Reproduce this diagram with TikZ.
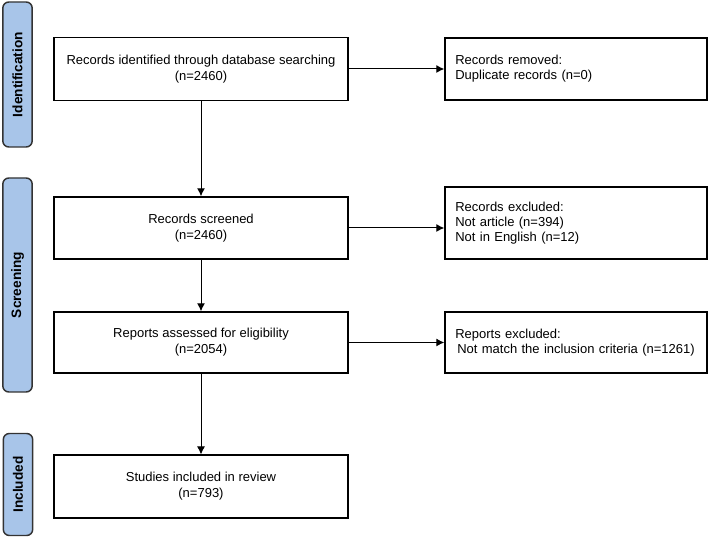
\documentclass[tikz,border=0pt]{standalone}
\usepackage{fontspec}
\setmainfont{Liberation Sans}
\usetikzlibrary{arrows.meta}

\definecolor{phasefill}{RGB}{168,197,233}

\begin{document}
\begin{tikzpicture}[->,>={Latex[length=6pt,width=6pt]},x=0.75pt,y=-0.75pt,line width=0.75pt,
    box/.style={draw,line width=1.1pt,minimum width=220.5pt,minimum height=47pt,
      align=center,font=\fontsize{9.75}{12}\selectfont},
    note/.style={draw,line width=1.1pt,minimum width=196.5pt,text width=181pt,
      inner xsep=7.5pt,align=left,font=\fontsize{9.75}{11.25}\selectfont},
    phase/.style={draw=black!80,line width=1.1pt,fill=phasefill,rounded corners=4.5pt,
      rotate=90,minimum height=22pt,inner sep=0pt,font=\bfseries\fontsize{10.25}{12}\selectfont}]
  \useasboundingbox (0,0) rectangle (708,538);

  % phases on the left
  \node[phase,minimum width=108.75pt] (idphase)  at (17.5,74.5)  {Identification};
  \node[phase,minimum width=160.5pt]  (scrphase) at (17.5,285)   {Screening};
  \node[phase,minimum width=76.5pt]   (incphase) at (18,484.5)   {Included};

  % main column
  \node[box] (ident) at (201,69)  {Records identified through database searching\\(n=2460)};
  \node[box,minimum height=46.5pt] (scr)   at (201,228) {Records screened\\(n=2460)};
  \node[box,minimum height=45.75pt] (elig) at (201,342.5) {Reports assessed for eligibility\\(n=2054)};
  \node[box] (incl)  at (201,486.5) {Studies included in review\\(n=793)};

  % exclusions on the right
  \node[note,minimum height=46.5pt] (dup)  at (576,69)  {Records removed:\\Duplicate records (n=0)};
  \node[note,minimum height=54pt]   (excl) at (576,223) {Records excluded:\\Not article (n=394)\\Not in English (n=12)};
  \node[note,minimum height=45.75pt] (rep) at (576,342.5) {Reports excluded:\\\hspace{1.5pt}Not match the inclusion criteria (n=1261)};

  \path (ident) edge (scr)
        (scr)   edge (elig)
        (elig)  edge (incl);
  \path (ident) edge (dup)
        (scr)   edge (scr -| excl.west)
        (elig)  edge (rep);
\end{tikzpicture}
\end{document}
